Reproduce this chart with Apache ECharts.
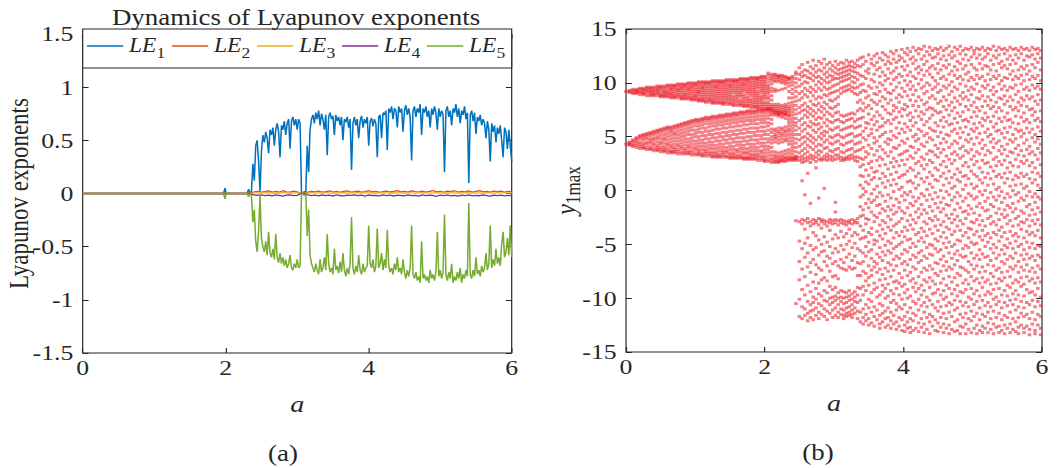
<!DOCTYPE html>
<html>
<head>
<meta charset="utf-8">
<style>
  html, body { margin: 0; padding: 0; background: #fff; overflow: hidden; }
  /* the source figure is stretched horizontally, so the chart is laid out narrower and widened */
  #chart { width: 906px; height: 468px; transform: scaleX(1.17); transform-origin: 0 0; }
</style>
<script src="https://cdn.jsdelivr.net/npm/echarts@6/dist/echarts.min.js"></script>
</head>
<body>
<div id="chart"></div>
<script>
// ---------- (a) Lyapunov exponents ----------
// flat part before the chaotic window
const leadA   = [0, 1.97, 1.99, 2.01, 2.03, 2.30, 2.32, 2.34];
const leadLE1 = [0, 0, 0.05, -0.01, 0, 0, 0.04, 0];
const leadLE5 = [0, 0, -0.05, 0.01, 0, 0, -0.03, 0];
const leadZero = [0, 0, 0, 0, 0, 0, 0, 0];

// LE1 / LE5 sampled every 0.02 from a = 2.36 to 6.00
const fineStart = 2.36, fineStep = 0.02;
const le1 = [
  0.02, 0.28, 0.12, 0.45, 0.50, 0.30, 0.02, 0.40, 0.55, 0.48,   // 2.36
  0.58, 0.52, 0.38, 0.60, 0.55, 0.62, 0.45, 0.60, 0.66, 0.58,   // 2.56
  0.34, 0.64, 0.60, 0.68, 0.55, 0.66, 0.70, 0.42, 0.68, 0.72,   // 2.76
  0.64, 0.70, 0.60, 0.70, 0.66, 0.01, 0.00, 0.02, 0.00, 0.45,   // 2.96
  0.20, 0.60, 0.70, 0.74, 0.66, 0.76, 0.70, 0.78, 0.64, 0.75,   // 3.16
  0.70, 0.60, 0.74, 0.36, 0.72, 0.76, 0.70, 0.73, 0.55, 0.74,   // 3.36
  0.68, 0.72, 0.64, 0.72, 0.50, 0.70, 0.67, 0.72, 0.62, 0.70,   // 3.56
  0.22, 0.66, 0.72, 0.64, 0.70, 0.52, 0.68, 0.73, 0.62, 0.70,   // 3.76
  0.66, 0.72, 0.45, 0.68, 0.71, 0.63, 0.70, 0.66, 0.34, 0.72,   // 3.96
  0.74, 0.52, 0.76, 0.74, 0.78, 0.41, 0.80, 0.76, 0.82, 0.70,   // 4.16
  0.80, 0.78, 0.62, 0.82, 0.76, 0.80, 0.58, 0.78, 0.83, 0.74,   // 4.36
  0.80, 0.72, 0.31, 0.78, 0.82, 0.72, 0.80, 0.76, 0.84, 0.55,   // 4.56
  0.80, 0.76, 0.82, 0.72, 0.78, 0.62, 0.80, 0.74, 0.82, 0.76,   // 4.76
  0.60, 0.80, 0.72, 0.78, 0.74, 0.20, 0.78, 0.82, 0.72, 0.78,   // 4.96
  0.64, 0.80, 0.76, 0.84, 0.72, 0.80, 0.66, 0.78, 0.74, 0.82,   // 5.16
  0.70, 0.76, 0.10, 0.74, 0.78, 0.68, 0.76, 0.56, 0.72, 0.68,   // 5.36
  0.74, 0.64, 0.70, 0.66, 0.52, 0.68, 0.60, 0.30, 0.66, 0.58,   // 5.56
  0.64, 0.48, 0.62, 0.56, 0.64, 0.50, 0.34, 0.62, 0.58, 0.42,   // 5.76
  0.60, 0.45, 0.30                                              // 5.96
];
const le5 = [
  -0.02, -0.27, -0.15, -0.45, -0.55, -0.35, -0.02, -0.42, -0.50, -0.55,
  -0.45, -0.58, -0.36, -0.56, -0.60, -0.52, -0.62, -0.38, -0.60, -0.65,
  -0.56, -0.66, -0.60, -0.68, -0.62, -0.70, -0.66, -0.58, -0.70, -0.72,
  -0.66, -0.70, -0.62, -0.70, -0.68, -0.01, 0.00, -0.02, 0.00, -0.40,
  -0.15, -0.58, -0.66, -0.70, -0.74, -0.66, -0.72, -0.76, -0.62, -0.74,
  -0.70, -0.60, -0.72, -0.38, -0.66, -0.74, -0.70, -0.76, -0.52, -0.72,
  -0.68, -0.75, -0.64, -0.74, -0.56, -0.72, -0.78, -0.70, -0.76, -0.66,
  -0.22, -0.70, -0.76, -0.68, -0.74, -0.58, -0.72, -0.76, -0.66, -0.74,
  -0.70, -0.68, -0.30, -0.66, -0.70, -0.62, -0.74, -0.68, -0.33, -0.70,
  -0.66, -0.56, -0.72, -0.62, -0.70, -0.34, -0.68, -0.74, -0.70, -0.76,
  -0.66, -0.72, -0.60, -0.74, -0.70, -0.76, -0.62, -0.74, -0.80, -0.72,
  -0.78, -0.70, -0.30, -0.76, -0.80, -0.74, -0.82, -0.78, -0.84, -0.45,
  -0.80, -0.76, -0.82, -0.78, -0.84, -0.72, -0.80, -0.76, -0.82, -0.74,
  -0.36, -0.78, -0.72, -0.80, -0.74, -0.20, -0.76, -0.82, -0.74, -0.80,
  -0.66, -0.84, -0.78, -0.82, -0.74, -0.80, -0.70, -0.84, -0.76, -0.80,
  -0.72, -0.78, -0.09, -0.76, -0.80, -0.72, -0.78, -0.60, -0.76, -0.72,
  -0.78, -0.68, -0.74, -0.70, -0.56, -0.72, -0.66, -0.30, -0.70, -0.62,
  -0.68, -0.52, -0.66, -0.60, -0.68, -0.48, -0.36, -0.60, -0.55, -0.42,
  -0.58, -0.30, -0.60
];

// LE2..LE4 hug zero, sampled every 0.05 from a = 2.35 to 6.00
const coarseStart = 2.35, coarseStep = 0.05;
const le2 = [
  0.006, 0.015, 0.020, 0.012, 0.018, 0.024, 0.014, 0.020, 0.012, 0.026,
  0.016, 0.013, 0.022, 0.015, 0.002, 0.001, 0.012, 0.020, 0.015, 0.022,
  0.012, 0.018, 0.025, 0.014, 0.020, 0.011, 0.019, 0.024, 0.013, 0.017,
  0.022, 0.012, 0.018, 0.026, 0.015, 0.020, 0.011, 0.017, 0.023, 0.014,
  0.019, 0.027, 0.016, 0.021, 0.012, 0.024, 0.018, 0.015, 0.022, 0.013,
  0.020, 0.028, 0.015, 0.019, 0.012, 0.023, 0.017, 0.026, 0.014, 0.021,
  0.016, 0.024, 0.013, 0.020, 0.027, 0.015, 0.019, 0.012, 0.022, 0.017,
  0.023, 0.014, 0.020, 0.016
];
const le3 = [
  0.003, 0.006, 0.004, 0.007, 0.005, 0.008, 0.004, 0.006, 0.003, 0.007,
  0.005, 0.004, 0.006, 0.005, 0.001, 0.000, 0.004, 0.007, 0.005, 0.006,
  0.004, 0.008, 0.005, 0.003, 0.006, 0.005, 0.007, 0.004, 0.006, 0.005,
  0.008, 0.004, 0.006, 0.005, 0.007, 0.003, 0.006, 0.008, 0.005, 0.004,
  0.007, 0.005, 0.006, 0.004, 0.008, 0.005, 0.003, 0.006, 0.007, 0.005,
  0.004, 0.006, 0.008, 0.005, 0.003, 0.007, 0.005, 0.006, 0.004, 0.007,
  0.005, 0.008, 0.004, 0.006, 0.005, 0.003, 0.007, 0.006, 0.004, 0.008,
  0.005, 0.006, 0.004, 0.007
];
const le4 = [
  -0.006, -0.014, -0.018, -0.012, -0.020, -0.015, -0.022, -0.013, -0.018, -0.024,
  -0.016, -0.012, -0.020, -0.017, -0.002, -0.001, -0.013, -0.019, -0.015, -0.023,
  -0.014, -0.020, -0.016, -0.025, -0.012, -0.019, -0.022, -0.015, -0.018, -0.013,
  -0.021, -0.016, -0.024, -0.014, -0.019, -0.017, -0.023, -0.012, -0.020, -0.016,
  -0.025, -0.015, -0.019, -0.022, -0.013, -0.020, -0.017, -0.024, -0.014, -0.021,
  -0.016, -0.019, -0.026, -0.015, -0.020, -0.013, -0.022, -0.018, -0.024, -0.016,
  -0.020, -0.014, -0.023, -0.017, -0.021, -0.013, -0.019, -0.025, -0.016, -0.020,
  -0.015, -0.022, -0.018, -0.020
];

// ---------- (b) bifurcation diagram: local maxima of y1 ----------
// each entry: [a, maxima in tenths]
const coneCols = [
  [0.00, '92 43'],
  [0.05, '93 92 91 45 44 43 42'],
  [0.10, '94 93 91 90 47 46 44 42 41'],
  [0.15, '94 93 92 91 90 49 48 46 44 42 40'],
  [0.20, '95 94 92 91 89 51 50 48 45 43 41 39'],
  [0.25, '95 94 93 91 90 89 52 51 49 47 44 42 40 39'],
  [0.30, '96 95 93 92 90 88 53 52 50 48 45 43 40 38'],
  [0.35, '96 95 94 92 91 89 88 54 53 51 48 46 44 41 39 38'],
  [0.40, '96 95 93 92 90 89 88 55 54 52 49 47 44 42 39 37'],
  [0.45, '97 96 94 93 91 90 88 56 55 53 50 48 45 42 40 38 37'],
  [0.50, '97 96 95 93 91 89 88 87 57 56 54 51 48 45 43 40 38 36'],
  [0.55, '97 96 94 92 91 89 88 87 58 57 55 52 49 47 44 41 39 37 36'],
  [0.60, '98 97 95 93 91 90 88 87 59 58 56 53 50 47 44 42 39 37 35'],
  [0.65, '98 97 95 94 92 90 89 87 86 59 58 56 54 51 48 45 42 40 37 36 35'],
  [0.70, '98 97 96 94 92 90 88 87 86 60 59 57 54 52 49 46 43 40 38 36 35'],
  [0.75, '99 98 96 94 93 91 89 88 86 61 60 58 55 52 49 46 43 41 38 36 34'],
  [0.80, '99 98 96 95 93 91 89 87 86 85 62 61 59 56 53 50 47 44 41 39 36 34'],
  [0.85, '99 98 97 95 93 91 89 88 86 85 63 62 60 57 54 51 48 45 42 39 37 35 34'],
  [0.90, '100 99 97 95 94 92 90 88 86 85 64 63 61 58 55 52 48 45 42 40 37 35 34'],
  [0.95, '100 99 97 96 94 92 90 88 86 85 84 65 64 62 59 56 52 49 46 43 40 37 35 33'],
  [1.00, '100 99 98 96 94 92 90 88 87 85 84 66 65 63 60 56 53 50 46 43 40 38 35 33'],
  [1.05, '101 100 98 96 94 92 91 89 87 85 84 83 66 65 63 60 57 54 50 47 44 41 38 36 34 33'],
  [1.10, '101 100 98 96 95 93 91 89 87 85 84 83 67 66 64 61 58 54 51 47 44 41 38 35 33 32'],
  [1.15, '101 100 99 97 95 93 91 89 87 85 83 82 68 67 65 62 58 55 51 48 44 41 38 36 34 32'],
  [1.20, '101 100 99 97 95 93 91 89 87 85 84 82 68 67 65 62 59 55 52 48 45 42 39 36 34 32'],
  [1.25, '102 101 99 97 95 93 91 89 87 85 83 82 81 69 68 66 63 60 56 52 49 45 42 39 36 34 32 31'],
  [1.30, '102 101 99 97 96 94 92 90 88 86 84 82 81 69 68 66 63 60 57 53 49 46 42 39 36 34 32 31'],
  [1.35, '102 101 100 98 96 94 92 90 88 86 84 82 81 70 69 67 64 61 57 53 50 46 43 40 37 34 32 31'],
  [1.40, '102 101 100 98 96 94 92 90 88 86 84 82 81 80 70 69 67 64 61 58 54 50 47 43 40 37 35 33 31'],
  [1.45, '103 102 100 98 96 94 92 90 88 86 84 82 80 71 70 68 65 62 58 54 51 47 44 40 37 35 32 31'],
  [1.50, '103 102 100 98 97 95 93 91 89 87 85 83 81 80 71 70 68 65 62 59 55 51 48 44 41 38 35 33 31 30'],
  [1.55, '103 102 101 99 97 95 93 91 88 86 84 82 80 79 72 71 69 66 63 59 55 52 48 45 41 38 35 33 31 30'],
  [1.60, '103 102 101 99 97 95 93 91 89 87 85 83 81 79 72 71 69 66 63 60 56 52 49 45 42 38 36 33 31 30'],
  [1.65, '104 103 101 99 97 95 93 91 89 87 84 82 80 79 73 72 70 67 64 60 56 53 49 45 42 39 36 33 31 30'],
  [1.70, '104 103 101 99 98 96 94 92 89 87 85 83 81 79 78 73 72 70 67 64 61 57 53 49 46 42 39 36 34 31 30 29'],
  [1.75, '104 103 102 100 98 96 94 92 90 87 85 83 81 79 78 74 73 71 68 65 61 57 54 50 46 43 39 36 34 31 30 29'],
  [1.80, '105 104 102 100 98 96 94 92 90 88 85 83 81 79 77 74 73 71 68 65 62 58 54 50 47 43 40 37 34 32 30 29'],
  [1.85, '105 104 102 100 98 96 94 92 90 88 86 84 82 80 78 77 74 73 71 68 65 62 58 54 51 47 43 40 37 34 32 30 29'],
  [1.90, '105 104 103 101 99 97 95 92 90 88 86 84 82 80 78 77 75 74 72 69 66 62 58 55 51 47 44 40 37 34 32 30 28'],
  [1.95, '106 105 103 101 99 97 95 93 91 88 86 84 82 80 78 76 75 74 72 69 66 63 59 55 51 48 44 41 37 35 32 30 28'],
  [2.00, '106 105 103 101 99 97 95 93 91 89 87 85 82 80 78 76 75 74 72 69 66 63 59 55 52 48 44 41 38 35 32 30 28 27'],
  [2.05, '109 107 104 101 98 96 94 92 90 87 85 82 80 78 76 75 76 75 73 70 67 63 60 56 52 48 45 41 38 35 32 29 27'],
  [2.10, '108 106 104 102 99 95 92 88 84 80 78 76 74 76 74 72 70 66 62 57 54 50 47 44 40 36 33 30 28 26'],
  [2.15, '108 107 105 103 101 94 92 80 78 76 74 72 74 72 70 57 55 52 50 48 45 36 33 31 29 27 26'],
  [2.20, '107 106 105 103 101 93 80 78 76 74 72 71 73 71 69 58 55 53 50 47 44 35 32 30 28 27 26'],
  [2.25, '107 106 104 102 100 94 79 77 75 73 72 72 70 68 58 56 53 51 48 45 36 33 31 29 28 27'],
  [2.30, '106 105 103 101 99 95 80 78 76 74 73 71 71 70 67 59 56 54 51 48 46 37 34 31 30 28 27'],
  [2.35, '105 104 103 100 97 92 86 81 78 76 74 72 70 69 66 63 60 57 55 52 49 46 43 38 35 32 30 29 28'],
  [2.40, '106 104 101 98 94 90 86 82 79 76 73 70 67 64 61 58 55 52 49 46 43 40 37 34 31 30 29 28'],
  [2.45, '110 108 104 100 96 92 87 83 79 75 71 67 63 60 56 52 48 44 40 36 32 31 30 29 28 -28 -105']
];
const chaosCols = [
  [2.50, '114 108 103 97 90 84 77 72 65 58 52 47 41 35 31 28 -29 -47 -66 -83 -101 -117'],
  [2.54, '117 110 106 99 92 86 79 74 67 61 55 49 43 37 32 29 26 9 -27 -31 -54 -73 -92 -108 -119'],
  [2.58, '112 107 101 95 89 81 75 70 63 57 50 45 39 34 30 27 -4 -28 -36 -49 -62 -80 -97 -110 -116'],
  [2.62, '119 111 105 100 93 87 78 73 68 60 53 48 42 36 31 28 16 -26 -30 -44 -58 -71 -88 -103 -114 -121'],
  [2.66, '115 109 104 96 91 83 76 71 64 59 51 46 40 33 30 26 -12 -29 -33 -51 -67 -76 -94 -106 -112 -118'],
  [2.70, '121 113 107 102 94 88 80 74 69 62 56 49 44 38 32 29 -27 -31 -39 -55 -64 -85 -99 -104 -111 -120'],
  [2.74, '116 110 105 98 92 85 79 72 66 61 54 47 41 35 31 27 21 -28 -30 -42 -53 -69 -78 -91 -101 -109 -116'],
  [2.78, '120 112 106 101 95 87 81 75 68 62 57 50 43 37 33 29 -7 -26 -32 -46 -60 -72 -86 -96 -105 -113 -119'],
  [2.82, '118 111 104 99 93 86 78 73 67 59 53 48 42 36 30 28 -27 -29 -35 -50 -57 -74 -83 -98 -107 -115'],
  [2.86, '122 114 108 102 96 89 82 76 70 63 55 51 45 39 32 29 2 -28 -31 -43 -56 -66 -81 -93 -102 -110 -117'],
  [2.90, '117 110 105 100 94 88 80 73 66 60 54 47 40 34 31 28 -29 -33 -48 -61 -70 -84 -95 -103 -112 -120'],
  [2.94, '119 113 107 101 95 90 84 77 71 64 57 50 44 37 32 29 -27 -30 -37 -52 -63 -75 -89 -100 -106 -114'],
  [2.98, '116 111 106 103 97 91 83 76 69 63 56 49 43 36 31 28 -28 -31 -45 -58 -68 -80 -92 -99 -104 -111 -118'],
  [3.02, '120 114 109 104 98 92 85 78 72 65 58 51 45 38 33 29 -11 -20 -27 -30 -41 -54 -66 -79 -90 -98 -102 -109 -116'],
  [3.06, '117 112 108 104 99 93 87 80 73 66 59 52 46 39 33 30 -28 -32 -44 -57 -70 -82 -95 -100 -106 -113 -118'],
  [3.10, '119 113 109 105 101 95 90 70 64 56 50 43 36 31 28 -27 -30 -38 -51 -64 -72 -93 -99 -103 -110 -115'],
  [3.14, '118 114 110 106 102 96 92 69 63 57 49 42 35 30 28 -28 -31 -43 -55 -67 -73 -94 -100 -105 -111 -116 -119'],
  [3.18, '121 115 111 107 103 97 93 70 65 58 51 44 37 31 29 -29 -32 -40 -50 -62 -74 -95 -99 -104 -109 -114 -117'],
  [3.22, '119 116 112 108 104 98 94 71 66 59 52 45 38 32 29 -28 -30 -36 -47 -59 -71 -93 -98 -102 -108 -113 -116'],
  [3.26, '120 115 111 106 101 96 92 72 67 60 53 46 39 33 30 -27 -31 -42 -53 -65 -73 -96 -101 -106 -111 -115 -118'],
  [3.30, '118 114 110 105 100 95 90 71 64 58 50 43 36 31 28 -28 -30 -39 -49 -61 -72 -94 -99 -103 -109 -114'],
  [3.34, '121 116 109 103 96 89 82 74 66 59 51 44 37 31 27 -26 -30 -41 -54 -67 -79 -90 -97 -104 -112 -119'],
  [3.38, '123 115 107 98 91 84 76 67 60 52 45 38 30 22 14 5 -6 -15 -24 -33 -45 -56 -68 -79 -91 -102 -113 -122'],
  [3.42, '124 117 106 99 93 81 74 68 55 49 40 29 24 13 2 -4 -18 -23 -37 -44 -58 -66 -75 -89 -97 -110 -118 -124'],
  [3.46, '120 111 104 92 86 77 63 58 47 36 31 19 8 -1 -12 -26 -31 -43 -52 -61 -77 -84 -93 -106 -115 -121'],
  [3.50, '126 113 109 97 88 79 71 62 51 42 34 25 14 6 -8 -16 -27 -39 -48 -57 -70 -81 -88 -101 -109 -119 -125'],
  [3.54, '122 118 103 95 84 76 66 57 53 39 27 21 10 -3 -11 -20 -35 -41 -55 -63 -74 -79 -95 -103 -113 -123'],
  [3.58, '125 116 108 101 90 82 69 61 49 44 33 17 12 1 -9 -23 -29 -46 -50 -66 -71 -86 -92 -108 -117 -126'],
  [3.62, '127 119 112 96 89 80 73 64 56 46 37 28 18 4 -6 -14 -25 -38 -47 -59 -68 -76 -90 -99 -111 -120'],
  [3.66, '123 114 106 100 92 83 70 59 50 41 31 23 11 -2 -13 -21 -32 -42 -53 -62 -73 -83 -97 -105 -116 -124 -128'],
  [3.70, '128 121 110 98 87 78 67 60 52 38 29 16 7 -5 -17 -28 -36 -45 -57 -65 -78 -88 -94 -107 -114 -122'],
  [3.74, '126 117 107 102 94 85 75 63 54 45 35 24 13 3 -10 -19 -30 -40 -51 -60 -72 -82 -91 -100 -112 -119 -127'],
  [3.78, '124 120 113 104 91 81 72 65 48 43 32 20 9 -4 -15 -24 -34 -47 -56 -67 -75 -87 -98 -109 -118 -125'],
  [3.82, '129 118 109 99 90 84 71 62 55 47 36 26 15 5 -7 -18 -27 -37 -49 -58 -69 -80 -93 -104 -113 -121 -128'],
  [3.86, '127 122 111 103 93 79 74 66 51 40 30 22 10 -1 -14 -22 -33 -44 -54 -64 -74 -85 -96 -102 -116 -124'],
  [3.90, '130 119 114 105 96 86 77 68 58 49 39 27 17 6 -8 -20 -31 -39 -52 -61 -70 -84 -91 -105 -111 -122 -129'],
  [3.94, '125 121 108 100 89 82 73 63 53 42 33 23 12 1 -11 -16 -29 -42 -50 -63 -77 -86 -97 -108 -118 -126'],
  [3.98, '131 123 115 106 95 87 76 69 57 46 34 28 14 3 -5 -19 -26 -38 -48 -59 -68 -81 -89 -101 -110 -120 -130'],
  [4.02, '128 120 112 102 92 80 75 62 54 44 36 24 15 -2 -9 -21 -34 -43 -55 -66 -74 -87 -95 -106 -117 -125 -131'],
  [4.06, '132 126 116 107 98 88 78 70 59 48 37 29 18 8 -4 -16 -28 -37 -46 -57 -69 -79 -92 -100 -113 -122 -128'],
  [4.10, '129 122 110 101 94 84 72 65 56 41 32 21 9 -1 -12 -23 -32 -45 -53 -64 -76 -84 -98 -109 -119 -127 -132'],
  [4.14, '133 124 118 106 97 89 79 68 60 50 40 30 19 7 -6 -14 -27 -36 -49 -60 -71 -82 -90 -103 -114 -121 -130'],
  [4.18, '130 121 113 104 93 83 74 63 52 46 35 25 13 2 -10 -20 -30 -41 -52 -62 -73 -86 -94 -105 -116 -128'],
  [4.22, '132 127 115 109 99 87 78 69 57 48 38 27 16 5 -7 -17 -25 -39 -47 -58 -67 -80 -91 -101 -111 -123 -131'],
  [4.26, '131 122 112 103 95 84 73 66 55 43 31 23 11 -3 -13 -22 -35 -44 -56 -65 -76 -88 -97 -107 -119 -127'],
  [4.30, '134 125 117 107 97 90 80 71 61 51 41 29 20 8 -5 -18 -29 -38 -48 -61 -72 -83 -93 -104 -113 -124 -132'],
  [4.34, '129 120 111 100 92 82 75 64 53 45 34 24 12 1 -9 -21 -31 -42 -53 -63 -74 -85 -99 -108 -118 -129'],
  [4.38, '133 126 114 108 98 86 77 67 58 49 37 28 17 6 -4 -15 -26 -36 -50 -59 -70 -81 -90 -102 -115 -122 -133'],
  [4.42, '130 123 116 105 94 88 76 70 56 47 36 26 14 3 -8 -19 -28 -40 -51 -60 -73 -84 -96 -106 -117 -126'],
  [4.46, '132 124 113 102 96 85 74 63 55 42 33 21 10 -2 -12 -24 -33 -45 -54 -67 -77 -87 -95 -109 -120 -130'],
  [4.50, '131 127 118 109 99 91 81 72 60 50 39 31 19 9 -6 -16 -27 -37 -47 -57 -68 -79 -92 -103 -112 -123 -131'],
  [4.54, '133 122 112 104 93 83 73 65 54 44 35 24 13 0 -11 -20 -32 -43 -55 -64 -75 -86 -97 -108 -118 -127'],
  [4.58, '130 125 116 106 97 87 78 68 59 48 38 27 16 5 -7 -17 -29 -39 -49 -61 -70 -82 -93 -101 -114 -124 -132'],
  [4.62, '132 121 114 103 95 84 75 64 52 45 32 22 11 -1 -13 -23 -34 -44 -53 -66 -74 -88 -99 -107 -119 -128'],
  [4.66, '134 126 117 108 98 89 79 70 61 51 40 29 18 7 -4 -14 -26 -36 -48 -58 -71 -80 -91 -104 -113 -125 -133'],
  [4.70, '129 123 111 101 92 82 74 62 55 43 34 25 12 2 -9 -22 -30 -41 -52 -63 -73 -85 -96 -106 -117 -129'],
  [4.74, '133 125 115 107 96 86 77 67 57 46 36 28 15 4 -6 -18 -27 -38 -50 -59 -69 -81 -92 -102 -111 -122 -131'],
  [4.78, '131 120 112 104 94 83 72 63 53 44 33 20 10 -2 -12 -24 -33 -46 -56 -65 -77 -88 -98 -109 -120 -130'],
  [4.82, '134 127 118 106 99 88 80 69 58 49 39 30 17 8 -5 -16 -28 -37 -47 -60 -71 -79 -94 -103 -115 -126 -133'],
  [4.86, '130 122 113 103 91 85 73 65 54 41 32 23 13 1 -10 -20 -31 -42 -54 -62 -72 -86 -95 -107 -118 -127'],
  [4.90, '132 126 116 108 97 87 78 66 59 47 37 26 14 5 -7 -19 -26 -39 -51 -61 -74 -83 -92 -104 -114 -124 -133'],
  [4.94, '131 121 110 102 93 84 75 64 52 45 35 22 11 -3 -14 -22 -35 -44 -53 -66 -76 -87 -99 -108 -119 -129'],
  [4.98, '133 124 117 105 96 89 79 68 57 48 38 29 18 6 -5 -17 -29 -36 -48 -58 -69 -80 -91 -101 -112 -121 -132'],
  [5.02, '130 127 114 103 94 82 73 62 55 43 32 24 15 2 -8 -21 -30 -41 -50 -63 -73 -84 -96 -106 -117 -128'],
  [5.06, '132 123 112 107 99 86 77 69 58 49 36 27 13 4 -6 -15 -27 -38 -49 -60 -70 -82 -93 -103 -114 -125 -133'],
  [5.10, '131 126 118 104 92 85 74 63 53 44 34 21 10 -1 -12 -23 -32 -43 -55 -64 -76 -86 -98 -109 -120 -130'],
  [5.14, '133 122 113 106 97 88 78 67 60 47 39 28 17 7 -4 -16 -28 -37 -46 -59 -71 -81 -90 -102 -115 -126 -132'],
  [5.18, '130 124 116 102 95 83 72 65 54 42 33 25 12 0 -10 -19 -33 -42 -52 -62 -75 -85 -97 -107 -117 -128'],
  [5.22, '132 127 115 108 98 87 79 68 57 50 37 26 16 5 -7 -18 -26 -40 -48 -61 -69 -83 -94 -104 -113 -123 -132'],
  [5.26, '131 121 112 103 93 84 76 64 52 45 35 22 11 -2 -13 -24 -31 -44 -54 -65 -77 -87 -96 -108 -119 -129'],
  [5.30, '134 125 117 106 96 89 78 69 59 48 40 29 18 6 -6 -15 -29 -39 -50 -58 -70 -80 -92 -101 -112 -124 -133'],
  [5.34, '130 123 111 104 92 82 73 62 55 44 31 23 13 1 -9 -21 -32 -41 -53 -63 -74 -86 -99 -106 -118 -127'],
  [5.38, '133 126 118 107 99 86 77 67 56 46 37 27 15 3 -5 -17 -27 -37 -47 -60 -72 -82 -91 -103 -114 -126 -132'],
  [5.42, '131 120 114 102 94 85 74 64 53 41 34 24 12 -1 -11 -22 -34 -43 -55 -66 -76 -84 -97 -109 -120 -130'],
  [5.46, '132 127 116 105 97 88 80 68 58 49 38 28 16 7 -7 -18 -25 -39 -51 -59 -68 -81 -93 -104 -116 -125 -133'],
  [5.50, '130 122 113 104 93 83 72 65 54 43 32 21 11 -3 -14 -23 -31 -45 -53 -64 -75 -88 -98 -107 -118 -128'],
  [5.54, '133 125 117 108 96 87 78 66 59 47 36 26 17 4 -6 -16 -28 -38 -49 -61 -71 -80 -90 -102 -113 -124 -132'],
  [5.58, '131 121 111 103 95 84 75 63 52 45 35 23 10 0 -12 -20 -33 -42 -54 -63 -73 -86 -96 -106 -119 -129'],
  [5.62, '132 126 118 106 98 89 77 69 57 48 39 29 14 5 -4 -17 -26 -40 -47 -58 -70 -83 -93 -101 -111 -122 -131'],
  [5.66, '130 123 112 104 92 82 74 62 55 42 33 22 12 -2 -10 -24 -32 -43 -52 -66 -76 -85 -97 -108 -118 -127 -133'],
  [5.70, '133 127 115 107 99 86 79 68 56 50 37 27 16 6 -7 -19 -29 -36 -50 -60 -71 -81 -89 -103 -114 -125'],
  [5.74, '131 121 113 102 94 84 72 64 53 44 32 25 13 2 -9 -21 -30 -44 -55 -64 -74 -87 -98 -109 -117 -128 -132'],
  [5.78, '132 125 116 108 96 88 78 66 58 47 38 28 15 4 -5 -15 -27 -38 -48 -59 -69 -80 -92 -104 -115 -126'],
  [5.82, '130 124 111 103 93 85 75 63 54 41 34 23 11 -1 -13 -23 -33 -41 -53 -63 -75 -84 -95 -106 -119 -129 -134'],
  [5.86, '133 126 117 106 98 87 76 70 57 49 36 26 17 7 -6 -18 -28 -39 -49 -61 -72 -82 -94 -102 -113 -124'],
  [5.90, '131 122 114 104 95 83 73 65 52 45 33 21 10 -3 -11 -22 -31 -42 -54 -65 -76 -86 -97 -108 -120 -130 -133'],
  [5.94, '132 127 119 107 97 89 80 67 59 48 39 29 16 5 -6 -16 -27 -37 -51 -60 -70 -81 -91 -103 -115 -125'],
  [5.98, '130 123 112 102 94 84 74 64 55 43 35 24 13 2 -8 -20 -32 -44 -52 -62 -73 -85 -99 -107 -117 -128 -134']
];

// ---------- build series data ----------
const round2 = v => Math.round(v * 100) / 100;
function linePairs(leadVals, start, step, vals) {
  const pts = leadA.map((a, i) => [a, leadVals[i]]);
  vals.forEach((v, i) => pts.push([round2(start + i * step), v]));
  return pts;
}
const bifPoints = [];
coneCols.concat(chaosCols).forEach(([a, ys]) => {
  ys.split(' ').forEach(t => bifPoints.push([a, Number(t) / 10]));
});

// ---------- layout helpers ----------
const SX = 1.17;             // horizontal stretch applied by CSS
const px = v => v / SX;      // reference pixel -> chart unit
const INK = '#262626';
const SERIF = 'Liberation Serif, serif';
const colors = ['#0072BD', '#D95319', '#EDB120', '#7E2F8E', '#77AC30'];

function axis(grid, position, min, max, step, labels, margin) {
  return {
    type: 'value', gridIndex: grid, position: position, min: min, max: max, interval: step,
    axisLine: { show: false, onZero: false },
    axisTick: { show: true, inside: true, length: 5, lineStyle: { color: INK, width: 1 } },
    axisLabel: { show: labels, color: INK, fontFamily: SERIF, fontSize: 22, margin: margin },
    splitLine: { show: false },
    nameMoveOverlap: false
  };
}

const xName = {
  name: 'a', nameLocation: 'middle', nameGap: 39,
  nameTextStyle: { fontStyle: 'italic', fontFamily: SERIF, fontSize: 24, color: INK }
};

const chart = echarts.init(document.getElementById('chart'), null, { renderer: 'svg', width: 906, height: 468 });

chart.setOption({
  animation: false,
  backgroundColor: '#fff',
  textStyle: { fontFamily: SERIF },
  grid: [
    { left: px(82.7), top: 34, width: px(511.7) - px(82.7), height: 319,
      show: true, borderColor: INK, borderWidth: 1, outerBoundsMode: 'none' },
    { left: px(626), top: 29, width: px(1042) - px(626), height: 323,
      show: true, borderColor: INK, borderWidth: 1, outerBoundsMode: 'none' }
  ],
  xAxis: [
    Object.assign(axis(0, 'bottom', 0, 6, 2, true, 4), xName),
    axis(0, 'top', 0, 6, 2, false, 4),
    Object.assign(axis(1, 'bottom', 0, 6, 2, true, 4), xName),
    axis(1, 'top', 0, 6, 2, false, 4)
  ],
  yAxis: [
    Object.assign(axis(0, 'left', -1.5, 1.5, 0.5, true, 8), {
      name: 'Lyapunov exponents', nameLocation: 'middle', nameGap: 43,
      nameTextStyle: { fontFamily: SERIF, fontSize: 23, color: INK }
    }),
    axis(0, 'right', -1.5, 1.5, 0.5, false, 8),
    Object.assign(axis(1, 'left', -15, 15, 5, true, 8), {
      name: '{i|y}{s|1max}', nameLocation: 'middle', nameGap: 36,
      nameTextStyle: {
        color: INK,
        rich: {
          i: { fontStyle: 'italic', fontFamily: SERIF, fontSize: 24, color: INK },
          s: { fontFamily: SERIF, fontSize: 17, color: INK, padding: [14, 0, 0, 0] }
        }
      }
    }),
    axis(1, 'right', -15, 15, 5, false, 8)
  ],
  legend: {
    data: ['LE1', 'LE2', 'LE3', 'LE4', 'LE5'],
    left: px(87), top: 36, z: 20, padding: 0,
    icon: 'rect', itemWidth: 31, itemHeight: 1.6, itemGap: 5.8,
    selectedMode: false,
    formatter: n => '{i|LE}{s|' + n.slice(2) + '}',
    textStyle: {
      color: INK, fontFamily: SERIF,
      rich: {
        i: { fontStyle: 'italic', fontFamily: SERIF, fontSize: 20, color: INK },
        s: { fontFamily: SERIF, fontSize: 15, color: INK, padding: [14, 0, 0, 0] }
      }
    }
  },
  graphic: [
    { type: 'rect', z: 10,
      shape: { x: px(82.7), y: 29, width: px(511.7) - px(82.7), height: 39 },
      style: { fill: '#fff', stroke: INK, lineWidth: 1 } },
    { type: 'text', z: 10,
      style: { text: 'Dynamics of Lyapunov exponents', x: px(296), y: 17, textAlign: 'center',
               textVerticalAlign: 'middle', font: '23px ' + SERIF, fill: INK } },
    { type: 'text', z: 10,
      style: { text: '(a)', x: px(283), y: 453, textAlign: 'center', textVerticalAlign: 'middle',
               font: '23px ' + SERIF, fill: INK } },
    { type: 'text', z: 10,
      style: { text: '(b)', x: px(818), y: 452, textAlign: 'center', textVerticalAlign: 'middle',
               font: '23px ' + SERIF, fill: INK } }
  ],
  series: [
    { name: 'LE1', data: linePairs(leadLE1, fineStart, fineStep, le1) },
    { name: 'LE2', data: linePairs(leadZero, coarseStart, coarseStep, le2) },
    { name: 'LE3', data: linePairs(leadZero, coarseStart, coarseStep, le3) },
    { name: 'LE4', data: linePairs(leadZero, coarseStart, coarseStep, le4) },
    { name: 'LE5', data: linePairs(leadLE5, fineStart, fineStep, le5) }
  ].map((s, i) => Object.assign(s, {
    type: 'line', xAxisIndex: 0, yAxisIndex: 0, showSymbol: false, symbol: 'none',
    color: colors[i], lineStyle: { color: colors[i], width: 1.3 }, z: 2
  })).concat([{
    type: 'scatter', name: 'y1max', xAxisIndex: 2, yAxisIndex: 2,
    data: bifPoints, symbol: 'rect', symbolSize: 3, silent: true,
    itemStyle: { color: 'rgba(234, 30, 40, 0.72)' }
  }])
});
</script>
</body>
</html>
